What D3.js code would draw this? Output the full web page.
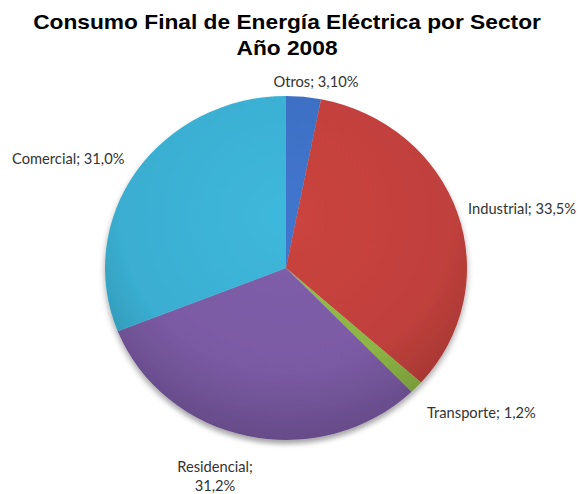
<!DOCTYPE html>
<html><head><meta charset="utf-8">
<script src="https://cdn.jsdelivr.net/npm/d3@7"></script>
<style>html,body{margin:0;padding:0;background:#fff;}</style>
</head><body>
<svg id="c" width="579" height="494"></svg>
<script>
const categories = ["Otros", "Industrial", "Transporte", "Residencial", "Comercial"];
const values = [3.10, 33.5, 1.2, 31.2, 31.0];
const labels = ["Otros; 3,10%", "Industrial; 33,5%", "Transporte; 1,2%", "Residencial;\n31,2%", "Comercial; 31,0%"];
const colors = ["#3d6fc2", "#c0403c", "#8cb544", "#7a5aa3", "#3aaed1"];

const svg = d3.select("#c");
const cx = 286, cy = 268, r = 181, sy = 0.95;

const titleG = svg.append("g");
const t1 = titleG.append("text").attr("x", 0).attr("y", 29).attr("text-anchor", "middle")
  .attr("font-family", "Liberation Sans, Arial, sans-serif").attr("font-weight", "bold")
  .attr("font-size", 21).attr("fill", "#000").text("Consumo Final de Energía Eléctrica por Sector");
titleG.append("text").attr("x", 0).attr("y", 55).attr("text-anchor", "middle")
  .attr("font-family", "Liberation Sans, Arial, sans-serif").attr("font-weight", "bold")
  .attr("font-size", 21).attr("fill", "#000").text("Año 2008");
const natural = t1.node().getComputedTextLength();
const k = 508 / natural;
titleG.attr("transform", `translate(287,0) scale(${k},1)`);

const defs = svg.append("defs");
colors.forEach((c, i) => {
  const g = defs.append("radialGradient").attr("id", "g" + i)
    .attr("gradientUnits", "userSpaceOnUse").attr("cx", 0).attr("cy", -r * 0.3).attr("r", r * 1.3);
  g.append("stop").attr("offset", "0%").attr("stop-color", d3.color(c).brighter(0.15));
  g.append("stop").attr("offset", "70%").attr("stop-color", c);
  g.append("stop").attr("offset", "100%").attr("stop-color", d3.color(c).darker(0.5));
});
const f = defs.append("filter").attr("id", "sh").attr("x", "-20%").attr("y", "-20%").attr("width", "140%").attr("height", "140%");
f.append("feGaussianBlur").attr("in", "SourceAlpha").attr("stdDeviation", 3);
f.append("feOffset").attr("dx", 0).attr("dy", 4).attr("result", "b");
f.append("feFlood").attr("flood-color", "#000").attr("flood-opacity", 0.35);
f.append("feComposite").attr("in2", "b").attr("operator", "in");
const m = f.append("feMerge"); m.append("feMergeNode"); m.append("feMergeNode").attr("in", "SourceGraphic");

const pie = d3.pie().sort(null).value(d => d);
const arc = d3.arc().innerRadius(0).outerRadius(r);
const g = svg.append("g").attr("transform", `translate(${cx},${cy}) scale(1,${sy})`).attr("filter", "url(#sh)");
g.selectAll("path").data(pie(values)).join("path")
  .attr("d", arc).attr("fill", (d, i) => `url(#g${i})`);

const labelPos = [
  {x: 316, y: 87, a: "middle"},
  {x: 468, y: 214, a: "start"},
  {x: 427, y: 418, a: "start"},
  {x: 215, y: 472, a: "middle"},
  {x: 12, y: 164, a: "start"}
];
labels.forEach((t, i) => {
  const p = labelPos[i];
  const tx = svg.append("text").attr("x", p.x).attr("y", p.y).attr("text-anchor", p.a)
    .attr("font-family", "Lato, 'Open Sans', sans-serif").attr("font-size", 14.7).attr("fill", "#333");
  t.split("\n").forEach((line, j) => {
    tx.append("tspan").attr("x", p.x).attr("dy", j === 0 ? 0 : 19).text(line);
  });
});
</script>
</body></html>
